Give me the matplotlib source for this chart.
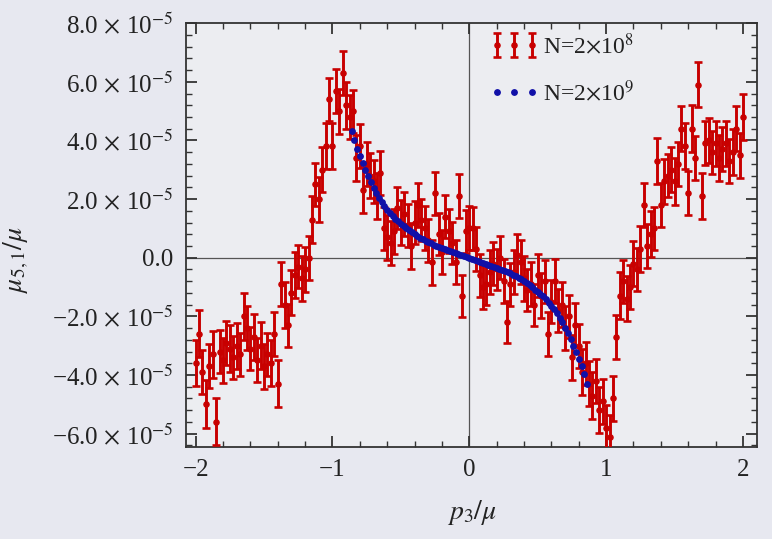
import matplotlib
matplotlib.use("Agg")
import matplotlib.pyplot as plt
from matplotlib.lines import Line2D
from matplotlib.container import ErrorbarContainer
from matplotlib.legend_handler import HandlerErrorbar
from matplotlib.ticker import MultipleLocator, FuncFormatter

plt.rcParams['font.family'] = ['Liberation Serif', 'DejaVu Serif']
plt.rcParams['mathtext.fontset'] = 'stix'

# p3/mu grid of the N=2x10^8 run
p3_coarse = [
    -2.000, -1.975, -1.950, -1.925, -1.900, -1.875, -1.850, -1.825,
    -1.800, -1.775, -1.750, -1.725, -1.700, -1.675, -1.650, -1.625,
    -1.600, -1.575, -1.550, -1.525, -1.500, -1.475, -1.450, -1.425,
    -1.400, -1.375, -1.350, -1.325, -1.300, -1.275, -1.250, -1.225,
    -1.200, -1.175, -1.150, -1.125, -1.100, -1.075, -1.050, -1.025,
    -1.000, -0.975, -0.950, -0.925, -0.900, -0.875, -0.850, -0.825,
    -0.800, -0.775, -0.750, -0.725, -0.700, -0.675, -0.650, -0.625,
    -0.600, -0.575, -0.550, -0.525, -0.500, -0.475, -0.450, -0.425,
    -0.400, -0.375, -0.350, -0.325, -0.300, -0.275, -0.250, -0.225,
    -0.200, -0.175, -0.150, -0.125, -0.100, -0.075, -0.050, -0.025,
    0.000, 0.025, 0.050, 0.075, 0.100, 0.125, 0.150, 0.175,
    0.200, 0.225, 0.250, 0.275, 0.300, 0.325, 0.350, 0.375,
    0.400, 0.425, 0.450, 0.475, 0.500, 0.525, 0.550, 0.575,
    0.600, 0.625, 0.650, 0.675, 0.700, 0.725, 0.750, 0.775,
    0.800, 0.825, 0.850, 0.875, 0.900, 0.925, 0.950, 0.975,
    1.000, 1.025, 1.050, 1.075, 1.100, 1.125, 1.150, 1.175,
    1.200, 1.225, 1.250, 1.275, 1.300, 1.325, 1.350, 1.375,
    1.400, 1.425, 1.450, 1.475, 1.500, 1.525, 1.550, 1.575,
    1.600, 1.625, 1.650, 1.675, 1.700, 1.725, 1.750, 1.775,
    1.800, 1.825, 1.850, 1.875, 1.900, 1.925, 1.950, 1.975,
    2.000,
]
# mu_{5,1}/mu in units of 1e-5
mu51_coarse = [
    -3.6, -2.6, -3.9, -5.0, -3.7, -3.3, -5.6, -3.2,
    -3.5, -2.9, -3.1, -3.4, -3.0, -3.3, -2.0, -2.4,
    -3.1, -2.7, -3.5, -3.0, -3.7, -3.3, -3.6, -2.6,
    -4.3, -0.9, -1.6, -2.3, -1.2, -0.6, -0.3, -0.7,
    -0.4, 0.0, 1.3, 2.5, 2.0, 3.0, 3.8, 5.4,
    3.8, 5.7, 5.0, 6.3, 5.2, 4.8, 5.0, 3.4,
    3.8, 2.3, 3.2, 2.8, 2.6, 2.1, 2.9, 1.0,
    0.7, 0.5, 0.9, 1.7, 1.2, 1.5, 1.1, 0.4,
    1.2, 1.8, 1.3, 1.0, 0.6, -0.15, 2.2, 0.8,
    0.2, 1.4, 0.9, 0.5, -0.15, 2.1, -1.3, 0.9,
    1.0, 1.0, 0.3, -0.6, -1.0, -0.9, -0.5, -0.2,
    -0.4, 0.0, -0.8, -2.2, -0.9, -0.5, 0.1, -0.15,
    -0.7, -1.1, -0.9, -1.6, -0.6, -1.3, -0.8, -2.6,
    -1.5, -0.8, -1.8, -1.6, -2.4, -2.0, -3.4, -2.3,
    -3.0, -3.9, -3.6, -4.3, -4.7, -4.2, -5.2, -4.9,
    -5.8, -6.1, -4.8, -2.7, -1.3, -0.8, -1.4, -1.0,
    -0.2, -0.4, 0.3, 1.8, 0.4, 0.8, 1.0, 3.3,
    1.8, 2.6, 2.8, 3.0, 2.6, 3.2, 4.4, 3.8,
    2.2, 4.4, 3.4, 5.9, 2.1, 3.9, 4.0, 3.6,
    3.9, 3.4, 3.7, 3.9, 3.3, 3.6, 4.4, 3.5,
    4.8,
]
err_coarse = [
    0.78, 0.80, 0.74, 0.82, 0.76, 0.79, 0.80, 0.73,
    0.77, 0.75, 0.80, 0.72, 0.78, 0.74, 0.79, 0.76,
    0.73, 0.78, 0.75, 0.80, 0.77, 0.74, 0.79, 0.76,
    0.80, 0.75, 0.78, 0.73, 0.77, 0.79, 0.74, 0.76,
    0.78, 0.75, 0.80, 0.73, 0.77, 0.76, 0.79, 0.74,
    0.78, 0.75, 0.77, 0.74, 0.80, 0.76, 0.73, 0.78,
    0.75, 0.79, 0.74, 0.77, 0.72, 0.78, 0.75, 0.73,
    0.77, 0.74, 0.76, 0.72, 0.78, 0.75, 0.73, 0.77,
    0.74, 0.76, 0.72, 0.75, 0.73, 0.77, 0.74, 0.72,
    0.76, 0.73, 0.75, 0.72, 0.74, 0.76, 0.71, 0.73,
    0.75, 0.72, 0.74, 0.73, 0.76, 0.72, 0.75, 0.73,
    0.71, 0.74, 0.76, 0.72, 0.73, 0.75, 0.72, 0.74,
    0.76, 0.73, 0.75, 0.72, 0.74, 0.77, 0.73, 0.75,
    0.74, 0.76, 0.73, 0.77, 0.75, 0.74, 0.78, 0.76,
    0.75, 0.79, 0.74, 0.77, 0.80, 0.75, 0.78, 0.76,
    0.79, 0.74, 0.78, 0.76, 0.80, 0.73, 0.77, 0.75,
    0.78, 0.74, 0.79, 0.76, 0.75, 0.78, 0.74, 0.80,
    0.76, 0.78, 0.73, 0.77, 0.79, 0.74, 0.76, 0.78,
    0.75, 0.80, 0.74, 0.77, 0.79, 0.75, 0.78, 0.73,
    0.77, 0.80, 0.75, 0.78, 0.74, 0.79, 0.76, 0.77,
    0.78,
]

# N=2x10^9 run, smooth curve near the origin
p3_fine = [
    -0.86, -0.84, -0.82, -0.80, -0.78, -0.76, -0.74, -0.72, -0.70, -0.68,
    -0.66, -0.64, -0.62, -0.60, -0.58, -0.56, -0.54, -0.52, -0.50, -0.48,
    -0.46, -0.44, -0.42, -0.40, -0.38, -0.36, -0.34, -0.32, -0.30, -0.28,
    -0.26, -0.24, -0.22, -0.20, -0.18, -0.16, -0.14, -0.12, -0.10, -0.08,
    -0.06, -0.04, -0.02, 0.00, 0.02, 0.04, 0.06, 0.08, 0.10, 0.12,
    0.14, 0.16, 0.18, 0.20, 0.22, 0.24, 0.26, 0.28, 0.30, 0.32,
    0.34, 0.36, 0.38, 0.40, 0.42, 0.44, 0.46, 0.48, 0.50, 0.52,
    0.54, 0.56, 0.58, 0.60, 0.62, 0.64, 0.66, 0.68, 0.70, 0.72,
    0.74, 0.76, 0.78, 0.80, 0.82, 0.84, 0.86,
]
mu51_fine = [
    4.32, 4.00, 3.72, 3.46, 3.22, 3.00, 2.79, 2.58, 2.39, 2.21,
    2.04, 1.89, 1.76, 1.64, 1.53, 1.42, 1.32, 1.24, 1.16, 1.09,
    1.01, 0.94, 0.87, 0.80, 0.74, 0.68, 0.63, 0.58, 0.53, 0.49,
    0.45, 0.41, 0.37, 0.34, 0.31, 0.27, 0.24, 0.20, 0.17, 0.13,
    0.10, 0.07, 0.03, 0.00, -0.03, -0.07, -0.10, -0.13, -0.17, -0.20,
    -0.24, -0.27, -0.31, -0.34, -0.37, -0.41, -0.45, -0.49, -0.53, -0.58,
    -0.63, -0.68, -0.74, -0.80, -0.87, -0.94, -1.01, -1.09, -1.17, -1.24,
    -1.32, -1.42, -1.53, -1.64, -1.76, -1.89, -2.04, -2.20, -2.38, -2.57,
    -2.78, -3.00, -3.22, -3.45, -3.70, -3.97, -4.30,
]

scale = 1e-5
red = '#c80000'
blue = '#1010a8'


class BarsOnly(HandlerErrorbar):
    # error-bar key without the joining line
    def create_artists(self, *args, **kwargs):
        artists = super().create_artists(*args, **kwargs)
        for a in artists:
            if isinstance(a, Line2D) and a.get_marker() in ('none', 'None', None, ''):
                a.set_visible(False)
        return artists


fig = plt.figure(figsize=(7.72, 5.39), dpi=100, facecolor='#e7e8f0')
ax = fig.add_axes([0.241, 0.171, 0.740, 0.786])
ax.set_facecolor('#ecedf1')

ax.axhline(0, color='#555555', lw=0.9, zorder=1)
ax.axvline(0, color='#555555', lw=0.9, zorder=1)

red_bars = ax.errorbar(p3_coarse, [v * scale for v in mu51_coarse],
                       yerr=[e * scale for e in err_coarse],
                       fmt='o', color=red, ms=3.7, elinewidth=2.1,
                       capsize=3.0, capthick=1.9, zorder=3)
blue_dots, = ax.plot(p3_fine, [v * scale for v in mu51_fine], 'o',
                     color=blue, ms=3.9, ls='none', zorder=4)

ax.set_xlim(-2.07, 2.105)
ax.set_ylim(-6.45e-5, 8.0e-5)

ax.xaxis.set_major_locator(MultipleLocator(1))
ax.xaxis.set_minor_locator(MultipleLocator(0.2))
ax.yaxis.set_major_locator(MultipleLocator(2e-5))
ax.yaxis.set_minor_locator(MultipleLocator(0.4e-5))


def ylab(v, pos):
    m = v / 1e-5
    if abs(m) < 1e-9:
        return '0.0'
    s = '%.1f' % m
    s = s.replace('-', '\u2212')
    return s + r'$\,\times\,$10$^{-5}$'


def xlab(v, pos):
    return ('%d' % round(v)).replace('-', '\u2212')


ax.yaxis.set_major_formatter(FuncFormatter(ylab))
ax.xaxis.set_major_formatter(FuncFormatter(xlab))

ax.tick_params(which='both', direction='in', top=True, right=True,
               color='#333333', labelsize=18, labelcolor='#222222')
ax.tick_params(which='major', length=8, width=1.3, pad=9)
ax.tick_params(which='minor', length=4, width=1.0)
for sp in ax.spines.values():
    sp.set_color('#333333')
    sp.set_linewidth(1.3)

ax.set_xlabel(r'$p_3/\mu$', fontsize=20, color='#222222', labelpad=12)
ax.set_ylabel(r'$\mu_{5,1}/\mu$', fontsize=20, color='#222222')
ax.yaxis.set_label_coords(-0.272, 0.443)

leg = ax.legend([red_bars, blue_dots],
                [r'N=2$\times$10$^{8}$', r'N=2$\times$10$^{9}$'],
                handler_map={ErrorbarContainer: BarsOnly()},
                loc='upper left', bbox_to_anchor=(0.515, 1.0), numpoints=3,
                frameon=False, fontsize=17, handlelength=2.1,
                handletextpad=0.15, labelspacing=0.9, borderaxespad=0.0)
for t in leg.get_texts():
    t.set_color('#222222')

fig.savefig('out.png', dpi=100, facecolor=fig.get_facecolor())
